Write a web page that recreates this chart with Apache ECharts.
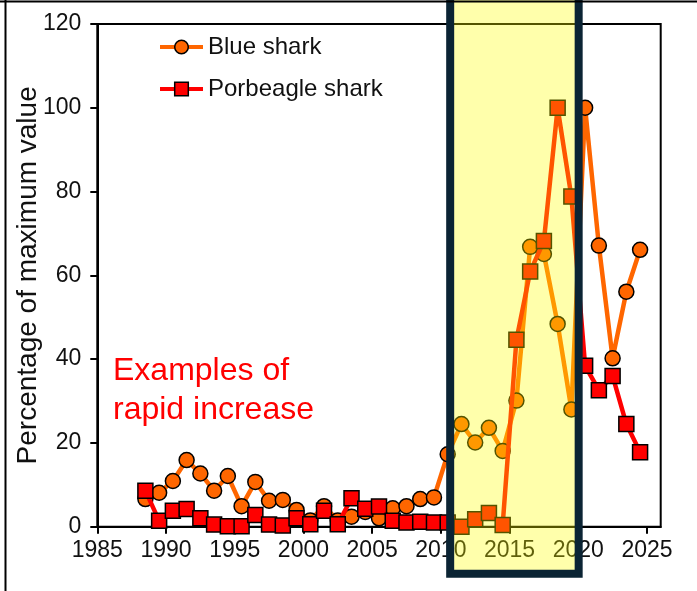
<!DOCTYPE html>
<html><head><meta charset="utf-8">
<script src="https://cdn.jsdelivr.net/npm/echarts@6/dist/echarts.min.js"></script>
<style>html,body{margin:0;padding:0;background:#fff}#c{width:697px;height:591px}</style>
</head><body><div id="c"></div>
<script>
const years = [1988,1989,1990,1991,1992,1993,1994,1995,1996,1997,1998,1999,2000,2001,2002,2003,2004,2005,2006,2007,2008,2009,2010,2011,2012,2013,2014,2015,2016,2017,2018,2019,2020,2021,2022,2023,2024];
const blueShark = [6.6,8.1,10.9,15.9,12.7,8.6,12.1,4.9,10.7,6.2,6.4,4.0,1.5,4.9,1.5,2.4,3.5,2.0,4.4,4.9,6.6,7.0,17.3,24.5,20.1,23.6,18.1,30.1,66.8,65.1,48.4,28.0,100,67.1,40.2,56.1,66.1];
const porbeagleShark = [8.6,1.4,3.8,4.2,2.0,0.5,0.1,0.1,2.8,0.5,0.3,2.0,0.6,3.8,0.6,6.8,4.3,4.8,1.4,1.0,1.2,1.0,1.0,0.0,1.8,3.3,0.4,44.6,60.9,68.2,100,78.8,38.4,32.6,36.0,24.5,17.8];
const xTickLabels = [1985,1990,1995,2000,2005,2010,2015,2020,2025];
const yTickLabels = [0,20,40,60,80,100,120];
const highlightYears = [2010.68, 2020.03];
const seriesNames = ['Blue shark','Porbeagle shark'];
const annotationText = 'Examples of\nrapid increase';
const yTitle = 'Percentage of maximum value';
const midYear = 0.5;

const FONT = '"Liberation Sans", Arial, sans-serif';
const chart = echarts.init(document.getElementById('c'), null, {renderer:'canvas'});
const toPts = vals => years.map((y,i)=>[y+midYear, vals[i]]);

chart.setOption({
  animation:false,
  backgroundColor:'#fff',
  textStyle:{fontFamily:FONT},
  grid:{left:97.3, right:36.3, top:24, bottom:64.3, show:true, borderColor:'#000', borderWidth:2, backgroundColor:'transparent'},
  legend:{
    orient:'vertical', left:153, top:30, itemWidth:43, itemHeight:17, itemGap:18,
    lineStyle:{width:4},
    itemStyle:{borderWidth:1.5, borderColor:'#000'},
    textStyle:{fontSize:24, color:'#111', fontFamily:FONT},
    data:seriesNames
  },
  xAxis:{
    type:'value', min:1985, max:2026, interval:5,
    axisLine:{lineStyle:{color:'#000', width:2}},
    axisTick:{length:7, lineStyle:{color:'#000', width:2}, customValues:xTickLabels},
    axisLabel:{fontSize:23, color:'#111', margin:12, fontFamily:FONT, customValues:xTickLabels, formatter:v=>String(v)},
    splitLine:{show:false}
  },
  yAxis:{
    type:'value', min:0, max:120, interval:20,
    name:yTitle, nameLocation:'middle', nameGap:55, nameMoveOverlap:false,
    nameTextStyle:{fontSize:28, color:'#111', fontFamily:FONT},
    axisLine:{show:true, lineStyle:{color:'#000', width:2}},
    axisTick:{show:true, length:7, lineStyle:{color:'#000', width:2}},
    axisLabel:{fontSize:23, color:'#111', margin:16, fontFamily:FONT, customValues:yTickLabels, formatter:v=>String(v)},
    splitLine:{show:false}
  },
  series:[
    {name:seriesNames[0], type:'line', data:toPts(blueShark), symbol:'circle', symbolSize:15,
     lineStyle:{color:'#ff6600', width:4.5}, itemStyle:{color:'#ff6600', borderColor:'#000', borderWidth:1.5}, z:2},
    {name:seriesNames[1], type:'line', data:toPts(porbeagleShark), symbol:'rect', symbolSize:15,
     lineStyle:{color:'#ff0000', width:4.5}, itemStyle:{color:'#ff0000', borderColor:'#000', borderWidth:1.5}, z:3}
  ]
});

const xl = chart.convertToPixel({xAxisIndex:0}, highlightYears[0]);
const xr = chart.convertToPixel({xAxisIndex:0}, highlightYears[1]);
const yBase = chart.convertToPixel({yAxisIndex:0}, 0);
chart.setOption({
  graphic:[
    {type:'rect', z:100, shape:{x:xl, y:-20, width:xr-xl, height:(yBase+47)+20},
     style:{fill:'rgba(255,255,0,0.33)', stroke:'#0b2434', lineWidth:8}},
    {type:'text', z:50, x:113, y:352,
     style:{text:annotationText, font:'32px ' + FONT, fill:'#ff0000', lineHeight:39, textVerticalAlign:'top'}},
    {type:'line', z:100, shape:{x1:0, y1:1.5, x2:697, y2:1.5}, style:{stroke:'#000', lineWidth:2}},
    {type:'line', z:100, shape:{x1:5.5, y1:0, x2:5.5, y2:591}, style:{stroke:'#000', lineWidth:2}}
  ]
});
</script></body></html>
